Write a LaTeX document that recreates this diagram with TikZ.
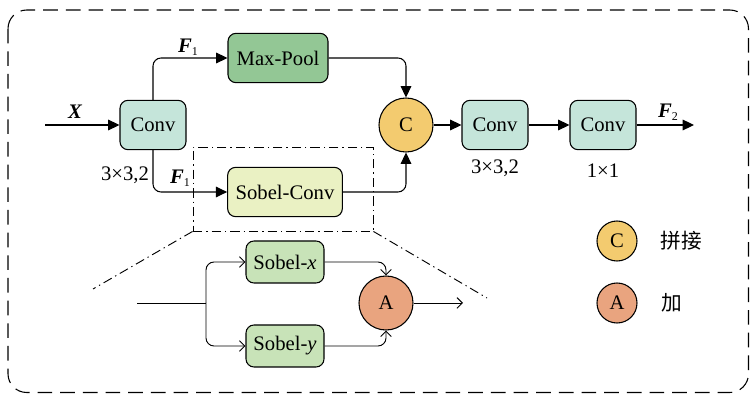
\documentclass[tikz,border=0pt]{standalone}
\usepackage{fontspec}
\setmainfont{Liberation Serif}
\newfontfamily\cjk{Noto Sans CJK SC}
\usetikzlibrary{arrows.meta}
\definecolor{convgreen}{HTML}{C5E5DA}
\definecolor{poolgreen}{HTML}{93C795}
\definecolor{sobelyellow}{HTML}{EAF1C3}
\definecolor{sobelgreen}{HTML}{C8E3B8}
\definecolor{catorange}{HTML}{F3CB6F}
\definecolor{addred}{HTML}{E9A47F}
\newcommand{\fsub}[2]{{\bfseries\itshape #1}\raisebox{-0.35ex}{\fontsize{9}{10}\selectfont #2}}
\tikzset{
    every node/.style={font=\fontsize{15.5}{18}\selectfont}
}
\tikzset{
    block/.style={draw, rounded corners=6pt, line width=0.8pt, inner sep=0pt,
        minimum height=37pt},
    op/.style={circle, draw, line width=0.8pt, inner sep=0pt, minimum size=40.5pt},
    main/.style={line width=0.8pt, rounded corners=6pt,
        -{Triangle[length=8.5pt,width=8pt]}},
    fine/.style={line width=0.7pt, rounded corners=6pt,
        -{Straight Barb[length=4pt,width=8pt]}},
    dashdot/.style={line width=0.7pt, dash pattern=on 7pt off 3pt on 1pt off 3pt}
}

\begin{document}
\begin{tikzpicture}[x=0.75pt, y=-0.75pt]
	\useasboundingbox (0,0) rectangle (751,395);
	\draw[line width=0.8pt, dash pattern=on 11pt off 6pt, rounded corners=14pt]
		(8,10) rectangle (748.5,392.5);

	\node (1) [block, fill=convgreen, minimum width=49.5pt] at (153,125) {Conv};
	\node (2) [block, fill=poolgreen, minimum width=75pt] at (278,58) {Max-Pool};
	\node (3) [block, fill=sobelyellow, minimum width=86pt] at (285,192) {Sobel-Conv};
	\node (c) [op, fill=catorange] at (406,125) {C};
	\node (4) [block, fill=convgreen, minimum width=49.5pt] at (495,125) {Conv};
	\node (5) [block, fill=convgreen, minimum width=49.5pt] at (603,125) {Conv};

	\node (k1) at (125,175) {3×3,2};
	\node (k4) at (495,168) {3×3,2};
	\node (k5) at (603,171) {1×1};
	\node (x) at (75,112) {\bfseries\itshape X};
	\node (f1a) at (188,47) {\fsub{F}{1}};
	\node (f1b) at (180,178) {\fsub{F}{1}};
	\node (f2) at (668,112) {\fsub{F}{2}};

	\coordinate (in) at (45,125);
	\coordinate (out) at (694,125);
	\draw[main] (in) -- (1);
	\draw[main] (1.north) |- (2.west);
	\draw[main] (1.south) |- (3.west);
	\draw[main] (2.east) -| (c.north);
	\draw[main] (3.east) -| (c.south);
	\draw[main] (c) -- (4);
	\draw[main] (4) -- (5);
	\draw[main] (5) -- (out);

	% zoomed view of Sobel-Conv
	\node (zoom) [draw, dashdot, minimum width=135pt, minimum height=63pt]
		at (283,189) {};
	\coordinate (zl) at (93,289);
	\coordinate (zr) at (487,298);
	\draw[dashdot] (zoom.south west) -- (zl);
	\draw[dashdot] (zoom.south east) -- (zr);

	\node (sx) [block, fill=sobelgreen, minimum width=58.5pt, minimum height=31.5pt]
		at (285,262) {Sobel-\textit{x}};
	\node (sy) [block, fill=sobelgreen, minimum width=58.5pt, minimum height=31.5pt]
		at (285,346) {Sobel-\textit{y}};
	\node (a) [op, fill=addred] at (386,303) {A};

	\coordinate (sin) at (137,303);
	\coordinate (sbr) at (206,303);
	\coordinate (sout) at (463,303);
	\draw[line width=0.7pt] (sin) -- (sbr);
	\draw[fine] (sbr) |- (sx.west);
	\draw[fine] (sbr) |- (sy.west);
	\draw[fine] (sx.east) -| (a.north);
	\draw[fine] (sy.east) -| (a.south);
	\draw[fine] (a) -- (sout);

	% legend
	\node (lc) [op, fill=catorange, minimum size=30pt] at (617,241) {C};
	\node (la) [op, fill=addred, minimum size=30pt] at (617,303) {A};
	\node (tc) at (681,241) {\cjk 拼接};
	\node (ta) at (672,303) {\cjk 加};
\end{tikzpicture}
\end{document}
